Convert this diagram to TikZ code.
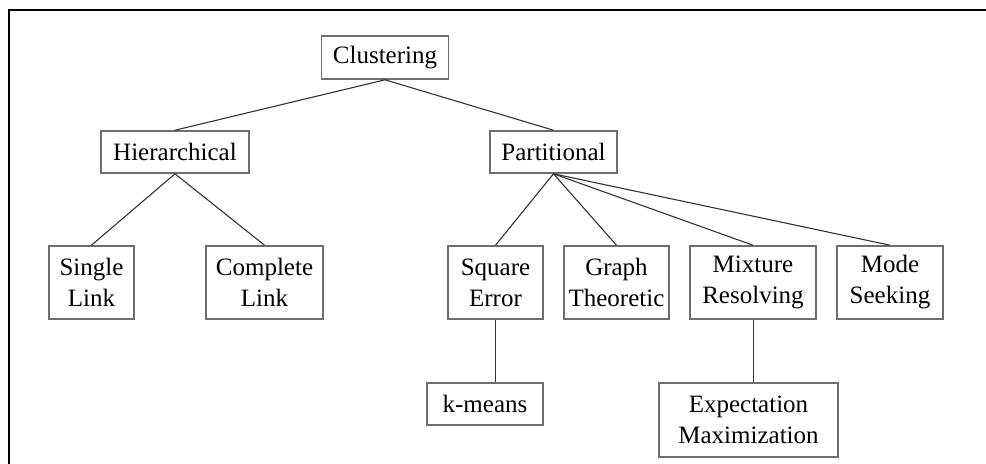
\documentclass[tikz,border=0pt]{standalone}
\usepackage{fontspec}
\setmainfont{Liberation Serif}
\usepackage{tikz}
\usetikzlibrary{positioning, calc}
\definecolor{boxgray}{HTML}{6E6E6E}
\definecolor{linkgray}{HTML}{333333}

\begin{document}
\begin{tikzpicture}[
  x=0.5pt, y=-0.5pt,
  every node/.style={font=\fontsize{12.5}{15.5}\selectfont, align=center},
  cat/.style 2 args={draw=boxgray, line width=0.8pt, inner sep=0pt,
                     minimum width=#1*0.5pt, minimum height=#2*0.5pt},
  lk/.style={draw=linkgray, line width=0.55pt},
  frame/.style={draw=black, line width=1.1pt}
]
  \useasboundingbox (0,0) rectangle (986,463);
  \draw[frame] (9,470) -- (9,10) -- (990,10);

  % ── root ────────────────────────────────────────────────────────────────
  \node[cat={127}{43}] (cl) at (385,57.5) {Clustering};

  % ── second level ────────────────────────────────────────────────────────
  \node[cat={148}{42}] (hi) at (175,152)   {Hierarchical};
  \node[cat={127}{42}] (pa) at (553.5,152) {Partitional};

  % ── hierarchical children ───────────────────────────────────────────────
  \node[cat={85}{73}]  (sl) at (91.5,282.5)  {Single\\Link};
  \node[cat={117}{73}] (co) at (264.5,282.5) {Complete\\Link};

  % ── partitional children ────────────────────────────────────────────────
  \node[cat={95}{73}]  (se) at (495.5,282.5) {Square\\Error};
  \node[cat={105}{73}] (gt) at (616.5,282.5) {Graph\\Theoretic};
  \node[cat={126}{73}] (mr) at (753,282.5)   {Mixture\\Resolving};
  \node[cat={106}{73}] (ms) at (890,282.5)   {Mode\\Seeking};

  % ── leaves ──────────────────────────────────────────────────────────────
  \node[cat={116}{42}] (km) at (485,404)   {k-means};
  \node[cat={179}{74}] (em) at (748.5,420) {Expectation\\Maximization};

  % ── links ───────────────────────────────────────────────────────────────
  \draw[lk] (cl.south) -- (hi.north);
  \draw[lk] (cl.south) -- (pa.north);
  \draw[lk] (hi.south) -- (sl.north);
  \draw[lk] (hi.south) -- (co.north);
  \draw[lk] (pa.south) -- (se.north);
  \draw[lk] (pa.south) -- (gt.north);
  \draw[lk] (pa.south) -- (mr.north);
  \draw[lk] (pa.south) -- (ms.north);
  \draw[lk] (se.south) -- (se.south |- km.north);  % square error -> k-means
  \draw[lk] ([xshift=0.25pt]mr.south) -- ([xshift=0.25pt]mr.south |- em.north);  % mixture -> EM
\end{tikzpicture}
\end{document}
